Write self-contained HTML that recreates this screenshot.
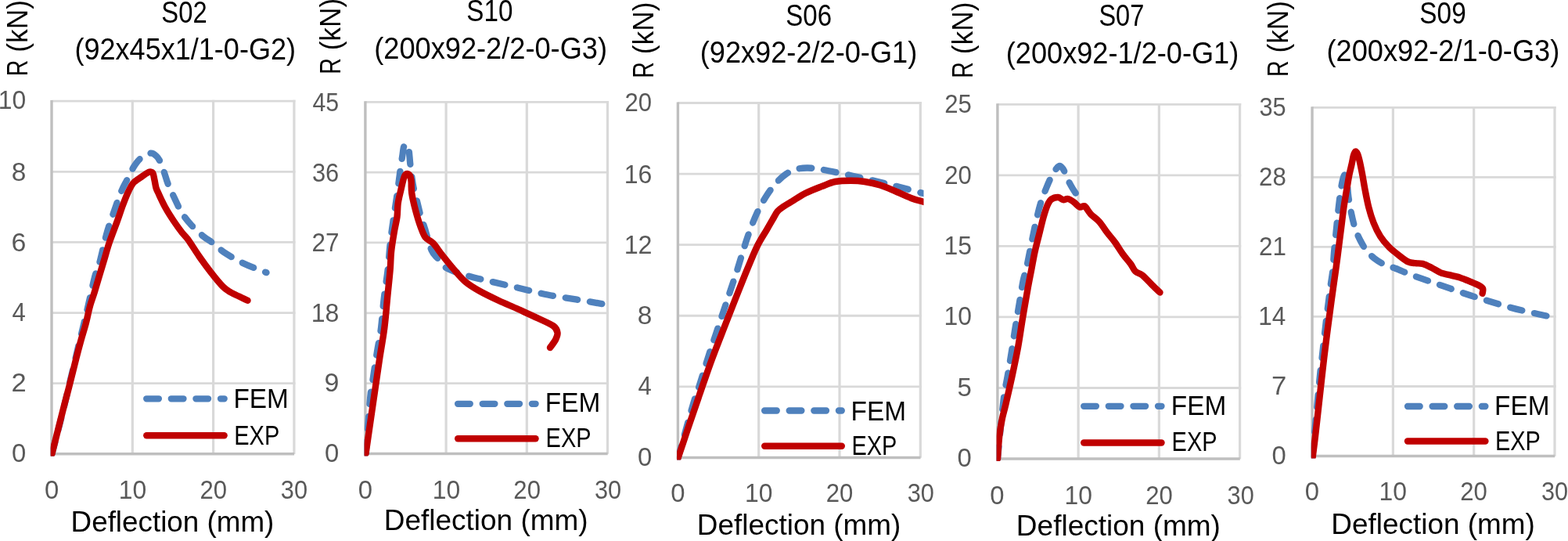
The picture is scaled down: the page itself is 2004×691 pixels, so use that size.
<!DOCTYPE html>
<html lang="en"><head><meta charset="utf-8"><title>Load-deflection curves</title>
<style>html,body{margin:0;padding:0;background:#fff;}body{width:2004px;height:691px;overflow:hidden;}svg{display:block;}text{font-family:"Liberation Sans", sans-serif;}.tk{fill:#595959;}.tt{fill:#000;}.g{stroke:#d9d9d9;fill:none;}.ax{stroke:#bfbfbf;stroke-width:3.40;fill:none;}.fem{stroke:#4f81bd;stroke-width:8.30;fill:none;stroke-linecap:round;stroke-linejoin:round;stroke-dasharray:15.7 15.9;}.exp{stroke:#c00000;stroke-width:8.40;fill:none;stroke-linecap:round;stroke-linejoin:round;}</style></head><body>
<svg width="2004" height="691" viewBox="0 0 2004 691">
<rect x="0" y="0" width="2004" height="691" fill="#ffffff"/>
<g id="panel1">
<line class="g" stroke-width="3.2" x1="169.30" y1="127.80" x2="169.30" y2="580.10"/>
<line class="g" stroke-width="3.2" x1="272.60" y1="127.80" x2="272.60" y2="580.10"/>
<line class="g" stroke-width="3.2" x1="375.90" y1="127.80" x2="375.90" y2="580.10"/>
<line class="g" stroke-width="2.8" x1="66.00" y1="129.20" x2="377.50" y2="129.20"/>
<line class="g" stroke-width="2.8" x1="66.00" y1="219.32" x2="377.50" y2="219.32"/>
<line class="g" stroke-width="2.8" x1="66.00" y1="309.44" x2="377.50" y2="309.44"/>
<line class="g" stroke-width="2.8" x1="66.00" y1="399.56" x2="377.50" y2="399.56"/>
<line class="g" stroke-width="2.8" x1="66.00" y1="489.68" x2="377.50" y2="489.68"/>
<line class="ax" x1="66.00" y1="128.10" x2="66.00" y2="581.50"/>
<line class="ax" x1="64.30" y1="579.80" x2="376.10" y2="579.80"/>
<clipPath id="c0"><rect x="64.7" y="125.2" width="315.4" height="457.6"/></clipPath>
<g clip-path="url(#c0)">
<path class="fem" d="M66.4,579.8 C68.8,570.7 75.7,544.6 80.5,525.0 C85.3,505.4 90.1,484.7 95.5,462.0 C100.9,439.3 108.8,407.0 113.0,389.0 C117.2,371.0 118.6,363.1 121.0,354.0 C123.4,344.9 125.0,343.6 127.5,334.5 C130.0,325.4 133.1,309.9 136.0,299.5 C138.9,289.1 141.8,281.2 145.0,272.0 C148.2,262.8 152.1,251.6 155.0,244.5 C157.9,237.4 159.8,234.8 162.5,229.5 C165.2,224.2 168.1,217.6 171.0,213.0 C173.9,208.4 176.4,204.9 180.0,202.0 C183.6,199.1 189.2,196.1 192.5,195.7 C195.8,195.3 197.9,197.6 200.0,199.5 C202.1,201.4 203.3,203.5 205.0,207.0 C206.7,210.5 208.3,215.9 210.0,220.7 C211.7,225.5 212.9,230.5 215.0,235.7 C217.1,240.9 219.6,245.9 222.5,252.0 C225.4,258.1 228.8,266.0 232.5,272.0 C236.2,278.0 240.4,283.0 245.0,288.0 C249.6,293.0 255.4,298.2 260.0,302.0 C264.6,305.8 267.9,307.2 272.5,310.7 C277.1,314.2 280.8,318.6 287.5,323.0 C294.2,327.4 303.7,332.8 312.5,337.0 C321.3,341.2 335.8,346.3 340.5,348.2"/>
<path class="exp" d="M66.4,579.8 C69.1,569.2 78.8,530.3 82.5,516.0 C86.2,501.7 85.8,503.7 88.3,494.0 C90.8,484.3 94.8,467.8 97.3,458.0 C99.8,448.2 101.3,442.5 103.4,435.0 C105.5,427.5 107.9,420.3 109.8,413.0 C111.7,405.7 113.2,397.5 115.0,391.0 C116.8,384.5 118.7,379.9 120.5,374.0 C122.3,368.1 124.0,362.2 126.0,355.5 C128.0,348.8 130.2,341.5 132.5,334.0 C134.8,326.5 136.6,319.2 139.5,310.5 C142.4,301.8 147.1,290.1 150.0,282.0 C152.9,273.9 154.8,267.8 157.0,262.0 C159.2,256.2 161.2,251.0 163.0,247.0 C164.8,243.0 166.1,240.4 167.5,238.0 C168.9,235.6 169.4,234.4 171.5,232.5 C173.6,230.6 177.2,228.4 180.0,226.5 C182.8,224.6 186.0,222.2 188.0,221.0 C190.0,219.8 190.8,219.4 192.0,219.5 C193.2,219.6 194.6,219.8 195.5,221.5 C196.4,223.2 196.8,226.9 197.5,230.0 C198.2,233.1 198.6,237.0 199.5,240.0 C200.4,243.0 201.1,243.9 203.0,248.0 C204.9,252.1 207.8,258.7 211.0,264.5 C214.2,270.3 218.8,277.5 222.5,283.0 C226.2,288.5 230.1,293.8 233.0,297.5 C235.9,301.2 236.4,300.5 240.0,305.5 C243.6,310.5 249.7,320.4 254.6,327.5 C259.5,334.6 264.6,341.5 269.6,347.9 C274.6,354.3 280.6,361.7 284.6,365.8 C288.6,369.9 290.0,370.5 293.5,372.6 C297.0,374.7 301.7,376.7 305.5,378.6 C309.3,380.5 314.7,382.9 316.5,383.8"/>
</g>
<line class="fem" x1="187.2" y1="509.3" x2="286.7" y2="509.3"/>
<line class="exp" x1="187.3" y1="556.3" x2="286.6" y2="556.3"/>
<text class="tt" font-size="35.80" transform="translate(298.45,521.00) scale(0.9321,1)">FEM</text>
<text class="tt" font-size="35.80" transform="translate(299.31,567.60) scale(0.8092,1)">EXP</text>
<text class="tk" font-size="33.40" transform="translate(14.88,589.90) scale(0.9844,1)">0</text>
<text class="tk" font-size="33.40" transform="translate(14.47,499.78) scale(1.0331,1)">2</text>
<text class="tk" font-size="33.40" transform="translate(15.50,410.16) scale(0.9308,1)">4</text>
<text class="tk" font-size="33.40" transform="translate(14.50,320.54) scale(1.0163,1)">6</text>
<text class="tk" font-size="33.40" transform="translate(14.78,230.82) scale(1.0001,1)">8</text>
<text class="tk" font-size="33.40" transform="translate(-2.29,139.30) scale(0.9545,1)">10</text>
<text class="tk" font-size="33.40" transform="translate(57.03,636.60) scale(0.9844,1)">0</text>
<text class="tk" font-size="33.40" transform="translate(151.81,636.60) scale(0.9545,1)">10</text>
<text class="tk" font-size="33.40" transform="translate(255.44,636.60) scale(0.9311,1)">20</text>
<text class="tk" font-size="33.40" transform="translate(358.85,636.60) scale(0.9199,1)">30</text>
<text class="tt" font-size="38.00" transform="translate(206.37,28.60) scale(0.8634,1)">S02</text>
<text class="tt" font-size="38.00" transform="translate(95.45,76.20) scale(0.9492,1)">(92x45x1/1-0-G2)</text>
<text class="tt" font-size="36.60" transform="translate(90.56,678.80) scale(1.0063,1)">Deflection (mm)</text>
<text class="tt" font-size="36.20" transform="translate(34.70,97.26) rotate(-90) scale(0.9753,1)"><tspan textLength="21.18" lengthAdjust="spacingAndGlyphs">R</tspan><tspan dx="0.06"> (kN)</tspan></text>
</g>
<g id="panel2">
<line class="g" stroke-width="3.2" x1="570.10" y1="128.90" x2="570.10" y2="579.75"/>
<line class="g" stroke-width="3.2" x1="673.30" y1="128.90" x2="673.30" y2="579.75"/>
<line class="g" stroke-width="3.2" x1="776.50" y1="128.90" x2="776.50" y2="579.75"/>
<line class="g" stroke-width="2.8" x1="466.90" y1="130.30" x2="778.10" y2="130.30"/>
<line class="g" stroke-width="2.8" x1="466.90" y1="220.13" x2="778.10" y2="220.13"/>
<line class="g" stroke-width="2.8" x1="466.90" y1="309.96" x2="778.10" y2="309.96"/>
<line class="g" stroke-width="2.8" x1="466.90" y1="399.79" x2="778.10" y2="399.79"/>
<line class="g" stroke-width="2.8" x1="466.90" y1="489.62" x2="778.10" y2="489.62"/>
<line class="ax" x1="466.90" y1="129.20" x2="466.90" y2="581.15"/>
<line class="ax" x1="465.20" y1="579.45" x2="776.70" y2="579.45"/>
<clipPath id="c1"><rect x="465.6" y="126.3" width="315.1" height="456.2"/></clipPath>
<g clip-path="url(#c1)">
<path class="fem" d="M467.5,579.3 C468.5,567.2 471.7,522.8 473.3,506.5 C474.9,490.2 475.6,491.1 477.0,481.5 C478.4,471.9 480.3,459.4 482.0,449.0 C483.7,438.6 485.6,430.2 487.0,419.0 C488.4,407.8 489.2,394.0 490.7,381.5 C492.1,369.0 494.4,355.6 495.7,344.0 C497.0,332.4 497.5,322.3 498.6,312.0 C499.7,301.7 501.1,292.0 502.5,282.0 C503.9,272.0 505.5,262.4 507.0,252.0 C508.5,241.6 510.1,228.2 511.3,219.5 C512.5,210.8 513.4,204.9 514.2,199.5 C515.1,194.1 515.4,187.8 516.4,187.0 C517.4,186.2 519.0,193.7 520.0,194.5 C521.0,195.3 521.8,189.5 522.5,192.0 C523.2,194.5 523.6,203.7 524.3,209.5 C525.0,215.3 525.8,222.0 526.5,227.0 C527.2,232.0 527.4,234.5 528.5,239.5 C529.6,244.5 531.4,250.8 533.0,257.0 C534.6,263.2 536.3,271.2 538.0,277.0 C539.7,282.8 540.8,284.9 543.0,292.0 C545.2,299.1 548.7,313.1 551.5,319.5 C554.3,325.9 556.9,326.9 560.0,330.7 C563.1,334.4 564.2,338.5 570.0,342.0 C575.8,345.5 585.8,348.7 595.0,351.5 C604.2,354.3 613.8,356.3 625.0,359.0 C636.2,361.7 650.0,364.8 662.5,367.7 C675.0,370.6 687.5,374.0 700.0,376.5 C712.5,379.0 725.8,380.8 737.5,382.7 C749.2,384.6 764.6,387.3 770.0,388.2"/>
<path class="exp" d="M467.5,579.3 C469.0,568.8 474.6,530.2 476.7,516.0 C478.8,501.8 478.4,503.9 479.9,494.0 C481.3,484.1 483.5,469.0 485.4,456.5 C487.3,444.0 489.7,431.5 491.3,419.0 C492.9,406.5 493.8,394.0 495.0,381.5 C496.2,369.0 497.9,353.9 498.7,344.0 C499.5,334.1 499.2,329.8 500.0,322.0 C500.8,314.2 502.4,304.5 503.7,297.0 C504.9,289.5 506.7,283.2 507.5,277.0 C508.3,270.8 507.9,265.3 508.7,259.5 C509.5,253.7 511.4,247.0 512.5,242.0 C513.6,237.0 514.7,232.5 515.5,229.5 C516.3,226.5 516.7,225.2 517.5,224.0 C518.3,222.8 519.4,221.9 520.5,222.0 C521.6,222.1 523.1,222.8 524.0,224.5 C524.9,226.2 525.2,228.2 525.6,232.0 C526.0,235.8 525.3,240.8 526.3,247.0 C527.2,253.2 529.4,262.4 531.3,269.5 C533.2,276.6 535.4,283.9 537.5,289.5 C539.6,295.1 541.0,299.8 543.7,303.3 C546.4,306.8 550.2,307.0 553.7,310.7 C557.2,314.4 560.6,320.1 565.0,325.7 C569.4,331.2 575.0,338.3 580.0,344.0 C585.0,349.7 589.6,355.4 595.0,360.0 C600.4,364.6 605.4,367.5 612.5,371.5 C619.6,375.5 629.2,380.1 637.5,384.0 C645.8,387.9 654.2,391.2 662.5,395.0 C670.8,398.8 680.0,402.9 687.5,406.5 C695.0,410.1 703.3,413.4 707.5,416.5 C711.7,419.6 712.1,422.1 712.5,425.0 C712.9,427.9 711.6,430.8 710.0,434.0 C708.4,437.2 704.2,442.3 703.0,444.0"/>
</g>
<line class="fem" x1="585.1" y1="515.8" x2="684.6" y2="515.8"/>
<line class="exp" x1="585.2" y1="560.2" x2="684.5" y2="560.2"/>
<text class="tt" font-size="35.80" transform="translate(696.75,525.55) scale(0.9321,1)">FEM</text>
<text class="tt" font-size="35.80" transform="translate(697.61,570.50) scale(0.8092,1)">EXP</text>
<text class="tk" font-size="33.40" transform="translate(414.88,590.15) scale(0.9844,1)">0</text>
<text class="tk" font-size="33.40" transform="translate(414.59,500.42) scale(1.0163,1)">9</text>
<text class="tk" font-size="33.40" transform="translate(397.70,410.79) scale(0.9593,1)">18</text>
<text class="tk" font-size="33.40" transform="translate(398.53,321.26) scale(0.9427,1)">27</text>
<text class="tk" font-size="33.40" transform="translate(398.94,231.73) scale(0.9244,1)">36</text>
<text class="tk" font-size="33.40" transform="translate(399.42,141.80) scale(0.9089,1)">45</text>
<text class="tk" font-size="33.40" transform="translate(457.83,636.50) scale(0.9844,1)">0</text>
<text class="tk" font-size="33.40" transform="translate(552.71,636.50) scale(0.9545,1)">10</text>
<text class="tk" font-size="33.40" transform="translate(656.34,636.50) scale(0.9311,1)">20</text>
<text class="tk" font-size="33.40" transform="translate(759.95,636.50) scale(0.9199,1)">30</text>
<text class="tt" font-size="38.00" transform="translate(596.36,27.40) scale(0.8741,1)">S10</text>
<text class="tt" font-size="38.00" transform="translate(478.24,74.70) scale(0.9526,1)">(200x92-2/2-0-G3)</text>
<text class="tt" font-size="36.60" transform="translate(490.85,676.50) scale(1.0103,1)">Deflection (mm)</text>
<text class="tt" font-size="36.20" transform="translate(435.00,94.86) rotate(-90) scale(0.9743,1)"><tspan textLength="21.18" lengthAdjust="spacingAndGlyphs">R</tspan><tspan dx="0.06"> (kN)</tspan></text>
</g>
<g id="panel3">
<line class="g" stroke-width="3.2" x1="969.70" y1="130.10" x2="969.70" y2="584.75"/>
<line class="g" stroke-width="3.2" x1="1073.00" y1="130.10" x2="1073.00" y2="584.75"/>
<line class="g" stroke-width="3.2" x1="1176.30" y1="130.10" x2="1176.30" y2="584.75"/>
<line class="g" stroke-width="2.8" x1="866.40" y1="131.50" x2="1177.90" y2="131.50"/>
<line class="g" stroke-width="2.8" x1="866.40" y1="222.09" x2="1177.90" y2="222.09"/>
<line class="g" stroke-width="2.8" x1="866.40" y1="312.68" x2="1177.90" y2="312.68"/>
<line class="g" stroke-width="2.8" x1="866.40" y1="403.27" x2="1177.90" y2="403.27"/>
<line class="g" stroke-width="2.8" x1="866.40" y1="493.86" x2="1177.90" y2="493.86"/>
<line class="ax" x1="866.40" y1="130.40" x2="866.40" y2="586.15"/>
<line class="ax" x1="864.70" y1="584.45" x2="1176.50" y2="584.45"/>
<clipPath id="c2"><rect x="865.1" y="127.5" width="315.4" height="460.0"/></clipPath>
<g clip-path="url(#c2)">
<path class="fem" d="M866.4,585.5 C869.7,573.9 881.5,531.2 886.0,516.0 C890.5,500.8 890.1,503.9 893.3,494.0 C896.5,484.1 901.4,467.8 905.0,456.5 C908.6,445.2 911.7,436.5 915.0,426.5 C918.3,416.5 922.1,405.2 925.0,396.5 C927.9,387.8 929.6,382.8 932.5,374.0 C935.4,365.2 939.6,353.1 942.5,344.0 C945.4,334.9 947.5,327.3 950.0,319.5 C952.5,311.7 954.6,304.9 957.5,297.0 C960.4,289.1 963.8,279.9 967.5,272.0 C971.2,264.1 975.8,256.0 980.0,249.5 C984.2,243.0 988.3,237.8 992.5,233.2 C996.7,228.6 1000.8,224.8 1005.0,222.0 C1009.2,219.2 1012.9,217.4 1017.5,216.2 C1022.1,214.9 1027.1,214.4 1032.5,214.5 C1037.9,214.6 1042.9,215.3 1050.0,216.5 C1057.1,217.7 1066.7,219.8 1075.0,221.5 C1083.3,223.2 1091.7,225.1 1100.0,227.0 C1108.3,228.9 1116.7,230.7 1125.0,232.7 C1133.3,234.7 1140.8,236.6 1150.0,239.0 C1159.2,241.4 1173.3,245.2 1180.0,247.0 C1186.7,248.8 1188.3,249.1 1190.0,249.5"/>
<path class="exp" d="M866.4,585.5 C868.4,579.6 874.4,561.6 878.3,550.0 C882.2,538.4 886.5,526.2 890.0,516.0 C893.5,505.8 895.7,498.9 899.2,489.0 C902.7,479.1 906.4,468.2 910.8,456.5 C915.1,444.8 920.4,431.5 925.3,419.0 C930.2,406.5 935.0,394.0 940.0,381.5 C945.0,369.0 950.3,355.2 955.0,344.0 C959.7,332.8 963.8,322.4 968.0,314.0 C972.2,305.6 976.8,298.9 980.0,293.3 C983.2,287.7 985.2,284.2 987.5,280.3 C989.8,276.4 991.8,272.4 994.0,269.7 C996.2,267.0 997.9,266.1 1001.0,264.0 C1004.1,261.9 1007.7,259.9 1012.5,257.0 C1017.3,254.1 1023.8,249.6 1030.0,246.5 C1036.2,243.4 1043.8,240.6 1050.0,238.2 C1056.2,235.8 1061.2,233.2 1067.5,232.0 C1073.8,230.8 1081.2,230.7 1087.5,230.7 C1093.8,230.7 1098.8,231.0 1105.0,232.0 C1111.2,233.0 1118.3,234.4 1125.0,236.5 C1131.7,238.6 1138.3,241.7 1145.0,244.5 C1151.7,247.3 1159.2,251.0 1165.0,253.2 C1170.8,255.4 1175.8,256.6 1180.0,257.7 C1184.2,258.8 1188.3,259.6 1190.0,260.0"/>
</g>
<line class="fem" x1="977.1" y1="524.5" x2="1075.8" y2="524.5"/>
<line class="exp" x1="977.2" y1="569.7" x2="1075.8" y2="569.7"/>
<text class="tt" font-size="35.80" transform="translate(1087.55,536.75) scale(0.9321,1)">FEM</text>
<text class="tt" font-size="35.80" transform="translate(1088.41,581.00) scale(0.8092,1)">EXP</text>
<text class="tk" font-size="33.40" transform="translate(814.88,594.55) scale(0.9844,1)">0</text>
<text class="tk" font-size="33.40" transform="translate(815.50,504.16) scale(0.9308,1)">4</text>
<text class="tk" font-size="33.40" transform="translate(814.78,413.87) scale(1.0001,1)">8</text>
<text class="tk" font-size="33.40" transform="translate(797.68,323.78) scale(0.9666,1)">12</text>
<text class="tk" font-size="33.40" transform="translate(797.70,233.59) scale(0.9593,1)">16</text>
<text class="tk" font-size="33.40" transform="translate(798.54,141.80) scale(0.9311,1)">20</text>
<text class="tk" font-size="33.40" transform="translate(857.13,641.20) scale(0.9844,1)">0</text>
<text class="tk" font-size="33.40" transform="translate(952.01,641.20) scale(0.9545,1)">10</text>
<text class="tk" font-size="33.40" transform="translate(1055.84,641.20) scale(0.9311,1)">20</text>
<text class="tk" font-size="33.40" transform="translate(1159.75,641.20) scale(0.9199,1)">30</text>
<text class="tt" font-size="38.00" transform="translate(1004.36,32.90) scale(0.8689,1)">S06</text>
<text class="tt" font-size="38.00" transform="translate(894.74,80.20) scale(0.9522,1)">(92x92-2/2-0-G1)</text>
<text class="tt" font-size="36.60" transform="translate(890.86,682.70) scale(1.0083,1)">Deflection (mm)</text>
<text class="tt" font-size="36.20" transform="translate(834.50,99.66) rotate(-90) scale(0.9753,1)"><tspan textLength="21.18" lengthAdjust="spacingAndGlyphs">R</tspan><tspan dx="0.06"> (kN)</tspan></text>
</g>
<g id="panel4">
<line class="g" stroke-width="3.2" x1="1378.13" y1="132.00" x2="1378.13" y2="586.30"/>
<line class="g" stroke-width="3.2" x1="1481.37" y1="132.00" x2="1481.37" y2="586.30"/>
<line class="g" stroke-width="3.2" x1="1584.60" y1="132.00" x2="1584.60" y2="586.30"/>
<line class="g" stroke-width="2.8" x1="1274.90" y1="133.40" x2="1586.20" y2="133.40"/>
<line class="g" stroke-width="2.8" x1="1274.90" y1="223.92" x2="1586.20" y2="223.92"/>
<line class="g" stroke-width="2.8" x1="1274.90" y1="314.44" x2="1586.20" y2="314.44"/>
<line class="g" stroke-width="2.8" x1="1274.90" y1="404.96" x2="1586.20" y2="404.96"/>
<line class="g" stroke-width="2.8" x1="1274.90" y1="495.48" x2="1586.20" y2="495.48"/>
<line class="ax" x1="1274.90" y1="132.30" x2="1274.90" y2="587.70"/>
<line class="ax" x1="1273.20" y1="586.00" x2="1584.80" y2="586.00"/>
<clipPath id="c3"><rect x="1273.6" y="129.4" width="315.2" height="459.6"/></clipPath>
<g clip-path="url(#c3)">
<path class="fem" d="M1275.0,586.0 C1276.2,573.6 1280.4,528.9 1282.5,511.5 C1284.6,494.1 1285.8,491.5 1287.5,481.5 C1289.2,471.5 1290.8,461.9 1292.5,451.5 C1294.2,441.1 1295.8,429.4 1297.5,419.0 C1299.2,408.6 1300.8,399.0 1302.5,389.0 C1304.2,379.0 1306.0,366.5 1307.5,359.0 C1309.0,351.5 1309.8,351.4 1311.5,344.0 C1313.2,336.6 1315.5,324.4 1317.5,314.5 C1319.5,304.6 1321.6,293.7 1323.7,284.5 C1325.8,275.3 1327.7,267.0 1330.0,259.5 C1332.3,252.0 1335.0,245.6 1337.5,239.5 C1340.0,233.4 1342.9,227.0 1345.0,223.0 C1347.1,219.0 1348.5,217.3 1350.0,215.5 C1351.5,213.7 1352.8,212.0 1354.2,212.0 C1355.6,212.0 1357.3,213.9 1358.5,215.5 C1359.7,217.1 1360.2,218.8 1361.5,221.5 C1362.8,224.2 1363.8,227.8 1366.0,232.0 C1368.2,236.2 1371.8,242.7 1375.0,247.0 C1378.2,251.3 1383.3,256.2 1385.0,258.0"/>
<path class="exp" d="M1275.0,586.0 C1275.4,581.1 1276.3,565.2 1277.3,556.5 C1278.3,547.8 1279.6,540.8 1281.0,534.0 C1282.4,527.2 1283.5,524.8 1285.5,516.0 C1287.5,507.2 1290.7,493.5 1293.3,481.5 C1295.9,469.5 1298.7,456.5 1301.0,444.0 C1303.3,431.5 1304.9,419.0 1307.0,406.5 C1309.1,394.0 1311.6,379.4 1313.5,369.0 C1315.4,358.6 1316.8,351.8 1318.3,344.0 C1319.8,336.2 1320.8,329.8 1322.5,322.0 C1324.2,314.2 1326.8,304.5 1328.7,297.0 C1330.6,289.5 1332.0,282.8 1333.7,277.0 C1335.4,271.2 1337.0,265.8 1338.7,262.0 C1340.4,258.2 1341.4,256.2 1343.7,254.5 C1346.0,252.8 1350.0,251.9 1352.5,252.0 C1355.0,252.1 1356.6,254.9 1358.7,255.2 C1360.8,255.5 1362.7,253.5 1365.0,254.0 C1367.3,254.5 1370.0,256.4 1372.5,258.2 C1375.0,259.9 1377.8,263.7 1380.0,264.5 C1382.2,265.3 1384.2,262.4 1386.0,263.2 C1387.8,264.0 1389.5,267.6 1391.0,269.5 C1392.5,271.4 1392.7,272.2 1395.0,274.5 C1397.3,276.8 1401.7,279.4 1405.0,283.2 C1408.3,286.9 1411.7,292.6 1415.0,297.0 C1418.3,301.4 1421.7,304.9 1425.0,309.5 C1428.3,314.1 1431.7,319.9 1435.0,324.5 C1438.3,329.1 1442.3,333.3 1445.0,337.0 C1447.7,340.7 1448.5,344.1 1451.0,346.5 C1453.5,348.9 1456.4,348.6 1460.0,351.5 C1463.6,354.4 1468.8,360.3 1472.5,364.0 C1476.2,367.7 1480.8,371.9 1482.5,373.5"/>
</g>
<line class="fem" x1="1385.2" y1="518.8" x2="1484.5" y2="518.8"/>
<line class="exp" x1="1385.2" y1="565.5" x2="1484.5" y2="565.5"/>
<text class="tt" font-size="35.80" transform="translate(1496.75,530.05) scale(0.9321,1)">FEM</text>
<text class="tt" font-size="35.80" transform="translate(1497.61,576.30) scale(0.8092,1)">EXP</text>
<text class="tk" font-size="33.40" transform="translate(1223.58,596.40) scale(0.9844,1)">0</text>
<text class="tk" font-size="33.40" transform="translate(1223.58,505.88) scale(0.9896,1)">5</text>
<text class="tk" font-size="33.40" transform="translate(1206.41,415.46) scale(0.9545,1)">10</text>
<text class="tk" font-size="33.40" transform="translate(1206.40,325.04) scale(0.9569,1)">15</text>
<text class="tk" font-size="33.40" transform="translate(1207.24,234.52) scale(0.9311,1)">20</text>
<text class="tk" font-size="33.40" transform="translate(1207.24,144.40) scale(0.9334,1)">25</text>
<text class="tk" font-size="33.40" transform="translate(1265.33,643.80) scale(0.9844,1)">0</text>
<text class="tk" font-size="33.40" transform="translate(1360.41,643.80) scale(0.9545,1)">10</text>
<text class="tk" font-size="33.40" transform="translate(1464.34,643.80) scale(0.9311,1)">20</text>
<text class="tk" font-size="33.40" transform="translate(1568.55,643.80) scale(0.9199,1)">30</text>
<text class="tt" font-size="38.00" transform="translate(1404.38,32.90) scale(0.8571,1)">S07</text>
<text class="tt" font-size="38.00" transform="translate(1285.74,80.70) scale(0.9519,1)">(200x92-1/2-0-G1)</text>
<text class="tt" font-size="36.60" transform="translate(1298.85,684.00) scale(1.0111,1)">Deflection (mm)</text>
<text class="tt" font-size="36.20" transform="translate(1243.00,99.66) rotate(-90) scale(0.9753,1)"><tspan textLength="21.18" lengthAdjust="spacingAndGlyphs">R</tspan><tspan dx="0.06"> (kN)</tspan></text>
</g>
<g id="panel5">
<line class="g" stroke-width="3.2" x1="1780.37" y1="136.00" x2="1780.37" y2="582.80"/>
<line class="g" stroke-width="3.2" x1="1883.68" y1="136.00" x2="1883.68" y2="582.80"/>
<line class="g" stroke-width="3.2" x1="1987.00" y1="136.00" x2="1987.00" y2="582.80"/>
<line class="g" stroke-width="2.8" x1="1677.05" y1="137.40" x2="1988.60" y2="137.40"/>
<line class="g" stroke-width="2.8" x1="1677.05" y1="226.42" x2="1988.60" y2="226.42"/>
<line class="g" stroke-width="2.8" x1="1677.05" y1="315.44" x2="1988.60" y2="315.44"/>
<line class="g" stroke-width="2.8" x1="1677.05" y1="404.46" x2="1988.60" y2="404.46"/>
<line class="g" stroke-width="2.8" x1="1677.05" y1="493.48" x2="1988.60" y2="493.48"/>
<line class="ax" x1="1677.05" y1="136.30" x2="1677.05" y2="584.20"/>
<line class="ax" x1="1675.35" y1="582.50" x2="1987.20" y2="582.50"/>
<clipPath id="c4"><rect x="1675.8" y="133.4" width="315.5" height="452.1"/></clipPath>
<g clip-path="url(#c4)">
<path class="fem" d="M1677.3,583.0 C1678.8,566.9 1684.4,506.3 1686.3,486.5 C1688.2,466.7 1687.8,473.2 1688.8,464.0 C1689.8,454.8 1691.2,442.3 1692.4,431.5 C1693.6,420.7 1694.9,409.4 1696.2,399.0 C1697.5,388.6 1698.8,378.2 1700.0,369.0 C1701.2,359.8 1702.7,351.8 1703.5,344.0 C1704.3,336.2 1704.3,329.8 1705.0,322.0 C1705.7,314.2 1706.7,305.3 1707.5,297.0 C1708.3,288.7 1709.1,280.3 1710.0,272.0 C1710.9,263.7 1712.0,254.0 1713.0,247.0 C1714.0,240.0 1715.0,233.9 1716.0,230.0 C1717.0,226.1 1717.8,223.5 1718.7,223.5 C1719.6,223.5 1720.5,225.2 1721.3,230.0 C1722.1,234.8 1722.5,245.0 1723.5,252.0 C1724.5,259.0 1725.6,265.3 1727.0,272.0 C1728.4,278.7 1730.1,286.2 1732.0,292.0 C1733.9,297.8 1736.1,302.3 1738.5,307.0 C1740.9,311.7 1743.5,316.2 1746.5,320.0 C1749.5,323.8 1752.8,327.1 1756.5,330.0 C1760.2,332.9 1764.4,335.5 1769.0,337.7 C1773.6,339.9 1778.2,340.8 1784.0,343.0 C1789.8,345.2 1796.5,348.4 1804.0,351.2 C1811.5,354.0 1820.7,357.1 1829.0,360.0 C1837.3,362.9 1845.7,365.8 1854.0,368.7 C1862.3,371.6 1870.7,374.6 1879.0,377.3 C1887.3,380.0 1895.7,382.5 1904.0,385.0 C1912.3,387.5 1920.7,390.1 1929.0,392.3 C1937.3,394.6 1944.9,396.4 1954.0,398.5 C1963.1,400.6 1978.6,403.9 1983.5,405.0"/>
<path class="exp" d="M1677.6,584.6 C1678.2,579.9 1679.8,567.4 1681.1,556.5 C1682.4,545.6 1684.0,530.7 1685.3,519.0 C1686.6,507.3 1687.7,496.9 1688.9,486.5 C1690.1,476.1 1691.0,467.8 1692.3,456.5 C1693.6,445.2 1695.4,431.5 1697.0,419.0 C1698.6,406.5 1700.3,394.0 1702.0,381.5 C1703.7,369.0 1705.9,354.3 1707.3,344.0 C1708.7,333.7 1709.4,328.2 1710.5,319.5 C1711.6,310.8 1712.8,301.2 1714.0,292.0 C1715.2,282.8 1716.2,273.2 1717.5,264.5 C1718.8,255.8 1720.3,246.9 1721.5,240.0 C1722.7,233.1 1723.5,228.0 1724.5,223.0 C1725.5,218.0 1726.6,214.0 1727.5,210.0 C1728.4,206.0 1729.0,201.8 1729.8,199.0 C1730.6,196.2 1731.3,193.9 1732.2,193.5 C1733.1,193.1 1734.1,194.6 1735.0,196.5 C1735.9,198.4 1736.5,200.8 1737.5,205.0 C1738.5,209.2 1739.8,215.8 1741.0,222.0 C1742.2,228.2 1743.1,234.9 1744.5,242.0 C1745.9,249.1 1747.4,257.4 1749.2,264.5 C1751.0,271.6 1753.0,278.2 1755.5,284.5 C1758.0,290.8 1760.9,296.8 1764.2,302.0 C1767.5,307.2 1771.1,311.3 1775.5,315.7 C1779.9,320.1 1786.4,325.0 1790.4,328.1 C1794.4,331.2 1796.6,333.0 1799.7,334.4 C1802.8,335.8 1805.8,335.8 1808.9,336.2 C1812.0,336.6 1814.7,335.9 1818.2,336.9 C1821.7,337.9 1825.9,340.1 1829.8,342.0 C1833.7,343.9 1837.2,346.7 1841.4,348.3 C1845.7,349.9 1851.0,350.8 1855.3,351.9 C1859.5,353.0 1863.1,353.6 1866.9,354.9 C1870.8,356.1 1874.6,357.8 1878.4,359.4 C1882.2,361.0 1887.2,363.0 1890.0,364.5 C1892.8,366.0 1894.3,366.9 1895.1,368.6 C1895.9,370.3 1894.7,373.8 1894.6,374.9"/>
</g>
<line class="fem" x1="1799.0" y1="519.0" x2="1898.4" y2="519.0"/>
<line class="exp" x1="1799.0" y1="563.5" x2="1898.4" y2="563.5"/>
<text class="tt" font-size="35.80" transform="translate(1910.05,529.95) scale(0.9321,1)">FEM</text>
<text class="tt" font-size="35.80" transform="translate(1910.91,574.70) scale(0.8092,1)">EXP</text>
<text class="tk" font-size="33.40" transform="translate(1625.38,592.60) scale(0.9844,1)">0</text>
<text class="tk" font-size="33.40" transform="translate(1624.88,503.58) scale(1.0388,1)">7</text>
<text class="tk" font-size="33.40" transform="translate(1608.23,414.56) scale(0.9450,1)">14</text>
<text class="tk" font-size="33.40" transform="translate(1609.03,325.54) scale(0.9403,1)">21</text>
<text class="tk" font-size="33.40" transform="translate(1609.04,236.82) scale(0.9357,1)">28</text>
<text class="tk" font-size="33.40" transform="translate(1609.45,147.90) scale(0.9221,1)">35</text>
<text class="tk" font-size="33.40" transform="translate(1667.63,639.20) scale(0.9844,1)">0</text>
<text class="tk" font-size="33.40" transform="translate(1762.41,639.20) scale(0.9545,1)">10</text>
<text class="tk" font-size="33.40" transform="translate(1866.24,639.20) scale(0.9311,1)">20</text>
<text class="tk" font-size="33.40" transform="translate(1969.95,639.20) scale(0.9199,1)">30</text>
<text class="tt" font-size="38.00" transform="translate(1814.35,30.40) scale(0.8780,1)">S09</text>
<text class="tt" font-size="38.00" transform="translate(1695.44,78.20) scale(0.9529,1)">(200x92-2/1-0-G3)</text>
<text class="tt" font-size="36.60" transform="translate(1701.36,681.50) scale(1.0083,1)">Deflection (mm)</text>
<text class="tt" font-size="36.20" transform="translate(1645.50,98.06) rotate(-90) scale(0.9753,1)"><tspan textLength="21.18" lengthAdjust="spacingAndGlyphs">R</tspan><tspan dx="0.06"> (kN)</tspan></text>
</g>
</svg></body></html>
